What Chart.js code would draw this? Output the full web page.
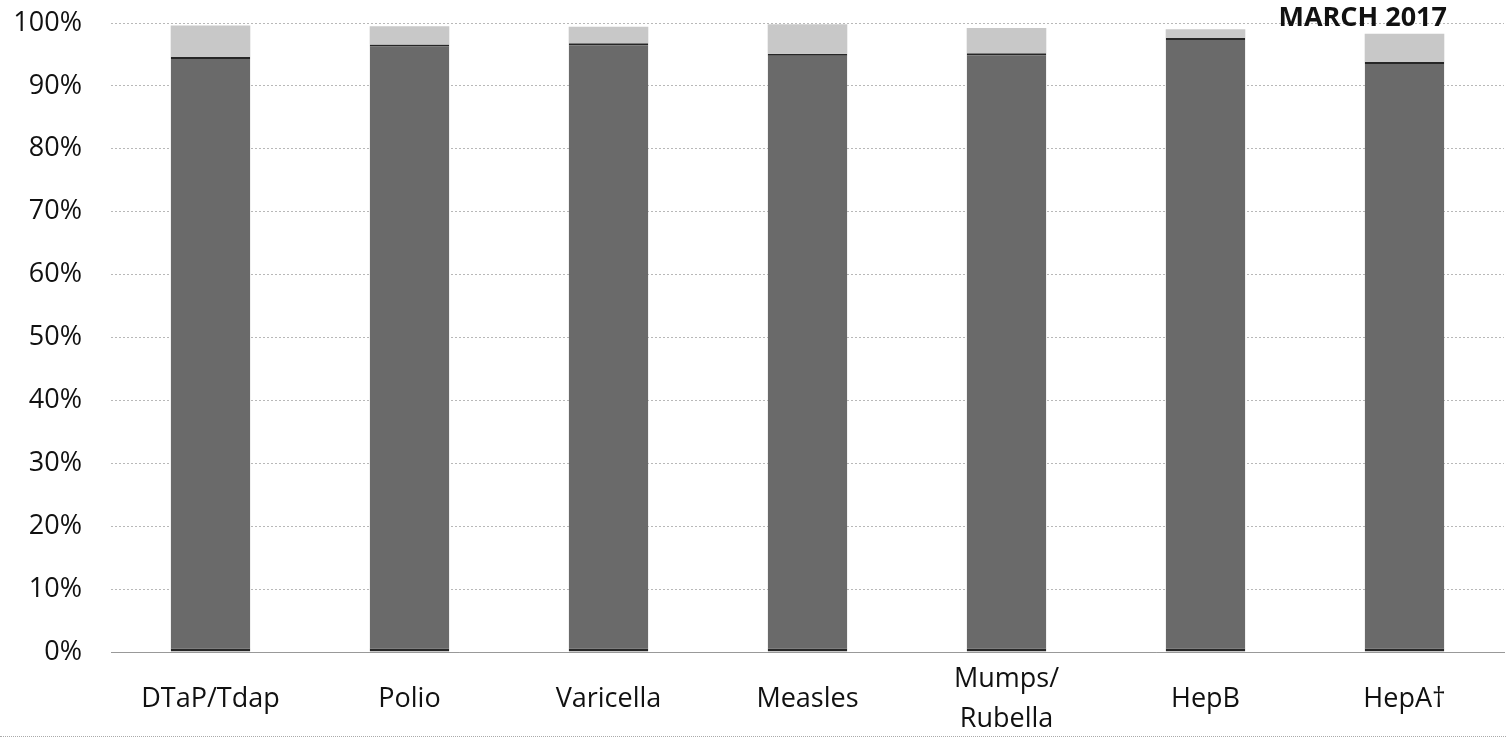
<!DOCTYPE html>
<html>
<head>
<meta charset="utf-8">
<script src="https://cdn.jsdelivr.net/npm/chart.js@4"></script>
<style>
  html, body { margin: 0; padding: 0; background: #fff; }
  #wrap { position: relative; width: 1506px; height: 743px; }
  #title { position: absolute; right: 59px; top: 2px; font: 700 27px/27px "Open Sans", sans-serif; color: #111; }
  #frame { position: absolute; left: 0; right: 0; top: 736px; border-top: 1px dotted #aaa; }
</style>
</head>
<body>
<div id="wrap">
  <canvas id="chart" width="1506" height="743"></canvas>
  <div id="title">MARCH 2017</div>
  <div id="frame"></div>
</div>
<script>
const categories = ['DTaP/Tdap', 'Polio', 'Varicella', 'Measles', ['Mumps/', 'Rubella'], 'HepB', 'HepA\u2020'];
const upToDate = [94.6, 96.6, 96.8, 95.1, 95.2, 97.6, 93.8];
const remainder = [5.0, 2.9, 2.6, 4.7, 4.0, 1.4, 4.5];
const yTicks = [0, 10, 20, 30, 40, 50, 60, 70, 80, 90, 100];

const ctx = document.getElementById('chart').getContext('2d');
new Chart(ctx, {
    type: 'bar',
    data: {
        labels: categories,
        datasets: [{
            data: upToDate,
            backgroundColor: '#6a6a6a',
            borderColor: '#262626',
            borderWidth: { top: 2, bottom: 3, left: 0, right: 0 },
            borderSkipped: false,
            categoryPercentage: 1,
            barPercentage: 0.4
        }, {
            data: remainder,
            backgroundColor: '#c8c8c8',
            borderWidth: 0,
            categoryPercentage: 1,
            barPercentage: 0.4
        }]
    },
    options: {
        responsive: false,
        animation: false,
        layout: { padding: { left: 0, right: 2, top: 23, bottom: 0 } },
        plugins: { legend: { display: false }, tooltip: { enabled: false } },
        scales: {
            x: {
                stacked: true,
                grid: { display: false, drawTicks: false },
                border: { color: '#999', width: 1 },
                ticks: {
                    color: '#111',
                    padding: 27,
                    crossAlign: 'center',
                    font: { family: 'Open Sans', size: 27, lineHeight: 1.5 }
                },
                afterFit: s => { s.height = 91; }
            },
            y: {
                stacked: true,
                min: 0,
                max: 100,
                afterBuildTicks: axis => { axis.ticks = yTicks.map(v => ({ value: v })); },
                grid: { color: '#b8b8b8', lineWidth: 1, drawTicks: false },
                border: { display: false, dash: [2, 2] },
                ticks: {
                    color: '#111',
                    padding: 29,
                    font: { family: 'Open Sans', size: 27 },
                    callback: v => v + '%'
                },
                afterFit: s => { s.width = 111; s.paddingTop = 0; s.paddingBottom = 0; }
            }
        }
    }
});
</script>
</body>
</html>
